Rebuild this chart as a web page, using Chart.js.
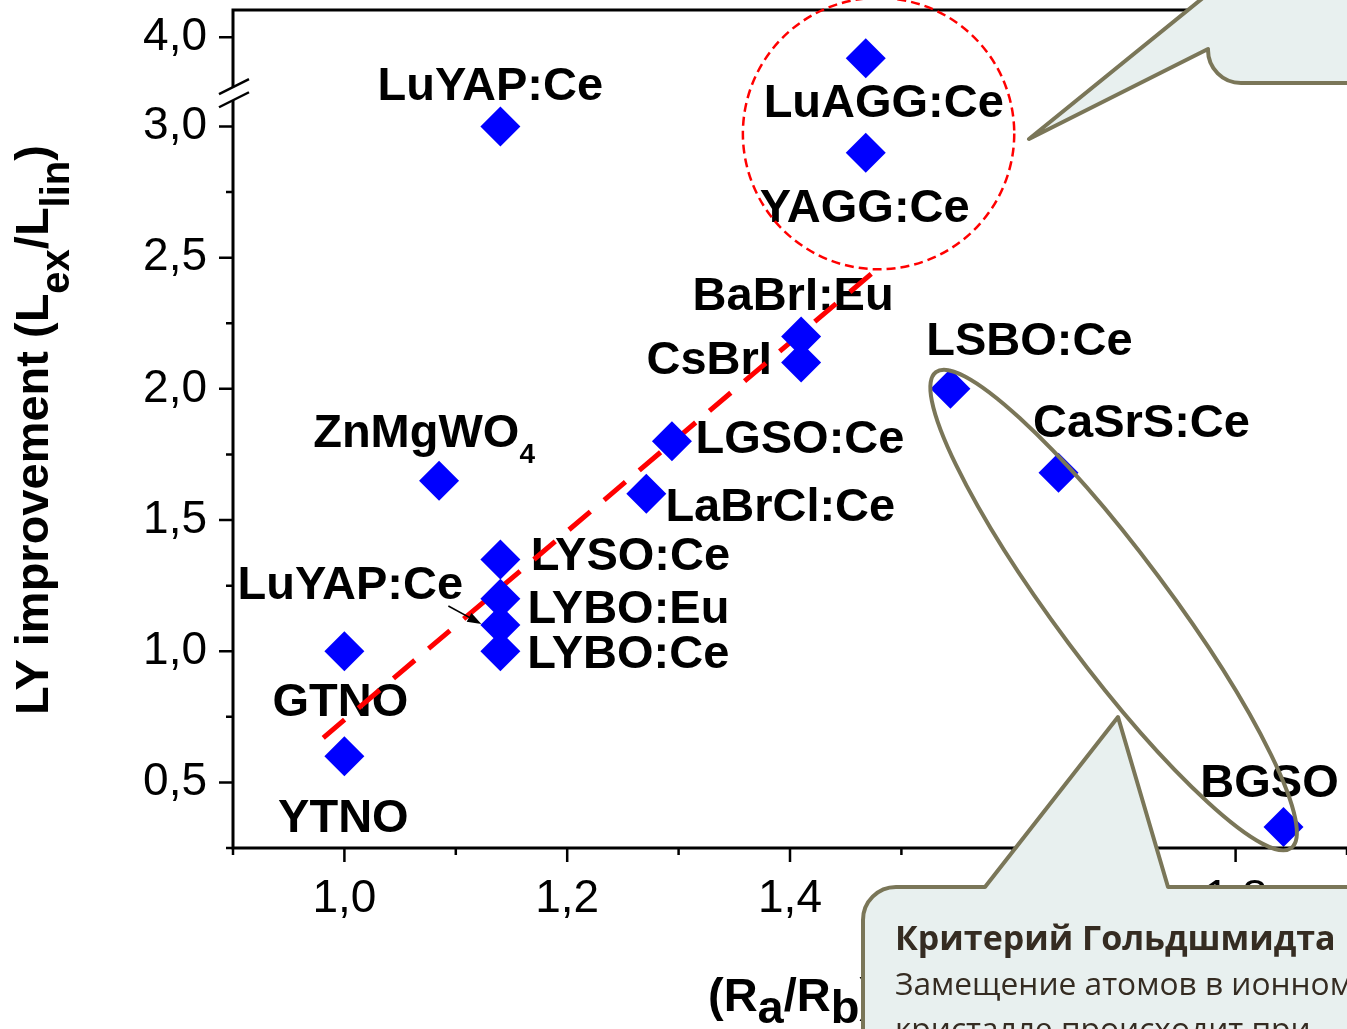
<!DOCTYPE html>
<html>
<head>
<meta charset="utf-8">
<script src="https://cdn.jsdelivr.net/npm/chart.js@4.4.1/dist/chart.umd.min.js"></script>
<style>
  html, body { margin: 0; padding: 0; background: #fff; overflow: hidden; }
  #wrap { width: 1347px; height: 1029px; }
</style>
</head>
<body>
<div id="wrap"><canvas id="chart" width="1347" height="1029"></canvas></div>
<script>
// scintillators: ion radii ratio vs light yield improvement
var names = ["LuYAP:Ce", "LuAGG:Ce", "YAGG:Ce", "BaBrI:Eu", "CsBrI", "LSBO:Ce", "CaSrS:Ce", "BGSO",
  "LGSO:Ce", "LaBrCl:Ce", "ZnMgWO4", "LYSO:Ce", "LYBO:Eu", "LuYAP:Ce", "LYBO:Ce", "GTNO", "YTNO"];
var ratio = [1.14, 1.468, 1.468, 1.41, 1.41, 1.544, 1.641, 1.843,
  1.294, 1.271, 1.085, 1.14, 1.14, 1.14, 1.14, 1.0, 1.0];
var improvement = [3.0, 3.92, 2.9, 2.2, 2.1, 2.0, 1.68, 0.33,
  1.8, 1.6, 1.65, 1.35, 1.2, 1.1, 1.0, 1.0, 0.6];
var trendX = [0.981, 1.479];
var trendY = [0.67, 2.46];
var xTicks = [1.0, 1.2, 1.4, 1.6, 1.8];
var xMinor = [0.9, 1.1, 1.3, 1.5, 1.7, 1.9];
var yTicks = [0.5, 1.0, 1.5, 2.0, 2.5, 3.0, 4.0];
var yMinor = [0.75, 1.25, 1.75, 2.25, 2.75];

// axis break on y: values above the break are shifted down
var BREAK = 3.12, SHIFT = 0.66;
function toDisplay(v) { return v > 3.5 ? v - SHIFT : v; }
function fromDisplay(v) { return v > BREAK ? v + SHIFT : v; }
function fmt(v) { return v.toFixed(1).replace(".", ","); }

// label placement (px from the marker: centre x, baseline y)
var labelShift = [[-10, -26], [18, 59], [-1, 69], [-8, -26], [-92, 11], [79, -34], [83, -36], [-14, -30],
  [128, 12], [134, 27], [-15, -34], [130, 11], [128, 24], [-150, -26], [128, 17], [-4, 65], [-1, 76]];

var FONT = '"Liberation Sans", Arial, sans-serif';
var OLIVE = "#7a7658";
var BUBBLE = "#e8f0ef";

function drawParts(ctx, parts, x, y, align) {
  var total = 0;
  parts.forEach(function (p) { ctx.font = p.f; p.w = ctx.measureText(p.t).width; total += p.w; });
  var cx = align === "center" ? x - total / 2 : x;
  parts.forEach(function (p) { ctx.font = p.f; ctx.fillText(p.t, cx, y + (p.dy || 0)); cx += p.w; });
}

function nameParts(name) {
  var bits = name.split(/(\d+)/).filter(function (s) { return s.length; });
  return bits.map(function (s) {
    return /^\d+$/.test(s) ? { t: s, f: "bold 28px " + FONT, dy: 16 } : { t: s, f: "bold 47px " + FONT };
  });
}

var decor = {
  id: "decor",
  beforeDatasetsDraw: function (chart) {
    var ctx = chart.ctx, xs = chart.scales.x, ys = chart.scales.y;
    ctx.save();
    ctx.fillStyle = "#000";
    ctx.textBaseline = "alphabetic";
    names.forEach(function (n, i) {
      var x = xs.getPixelForValue(ratio[i]) + labelShift[i][0];
      var y = ys.getPixelForValue(toDisplay(improvement[i])) + labelShift[i][1];
      drawParts(ctx, nameParts(n), x, y, "center");
    });
    ctx.restore();
  },
  afterDatasetsDraw: function (chart) {
    var ctx = chart.ctx, ca = chart.chartArea, xs = chart.scales.x, ys = chart.scales.y;
    var px = function (v) { return xs.getPixelForValue(v); };
    var py = function (v) { return ys.getPixelForValue(toDisplay(v)); };
    ctx.save();

    // frame
    ctx.strokeStyle = "#000";
    ctx.lineWidth = 3;
    ctx.beginPath();
    ctx.moveTo(ca.right + 5, ca.top); ctx.lineTo(ca.left, ca.top);
    ctx.lineTo(ca.left, ca.bottom); ctx.lineTo(ca.right + 5, ca.bottom);
    ctx.stroke();

    // ticks
    ctx.lineWidth = 2.5;
    ctx.beginPath();
    yTicks.forEach(function (v) { var y = py(v); ctx.moveTo(ca.left - 14, y); ctx.lineTo(ca.left, y); });
    yMinor.forEach(function (v) { var y = py(v); ctx.moveTo(ca.left - 7, y); ctx.lineTo(ca.left, y); });
    ctx.moveTo(ca.left - 7, ca.bottom); ctx.lineTo(ca.left, ca.bottom);
    xTicks.forEach(function (v) { var x = px(v); ctx.moveTo(x, ca.bottom); ctx.lineTo(x, ca.bottom + 14); });
    xMinor.forEach(function (v) { var x = px(v); ctx.moveTo(x, ca.bottom); ctx.lineTo(x, ca.bottom + 7); });
    ctx.stroke();

    // axis break marks
    var yb1 = ys.getPixelForValue(BREAK - 0.02), yb2 = ys.getPixelForValue(BREAK + 0.03);
    ctx.fillStyle = "#fff";
    ctx.fillRect(ca.left - 4, yb2, 8, yb1 - yb2);
    ctx.beginPath();
    ctx.moveTo(ca.left - 14, yb1 + 7); ctx.lineTo(ca.left + 16, yb1 - 8);
    ctx.moveTo(ca.left - 14, yb2 + 7); ctx.lineTo(ca.left + 16, yb2 - 8);
    ctx.stroke();

    // red dashed circle round the garnets
    var ccx = px(1.4795), ccy = py(2.973), cr = px(1.4795 + 0.1218) - ccx;
    ctx.strokeStyle = "#ff0000";
    ctx.lineWidth = 2.5;
    ctx.setLineDash([9, 5]);
    ctx.beginPath();
    ctx.arc(ccx, ccy, cr, 0, Math.PI * 2);
    ctx.stroke();
    ctx.setLineDash([]);

    // olive ellipse
    var ax = px(1.531), ay = py(2.064), bx = px(1.85), by = py(0.25);
    var ang = Math.atan2(by - ay, bx - ax), semi = Math.hypot(bx - ax, by - ay) / 2;
    ctx.strokeStyle = OLIVE;
    ctx.lineWidth = 4;
    ctx.beginPath();
    ctx.ellipse((ax + bx) / 2, (ay + by) / 2, semi, 56, ang, 0, Math.PI * 2);
    ctx.stroke();

    // arrow to the lower LuYAP:Ce point
    var lx = px(ratio[13]), ly = py(improvement[13]);
    var sx = lx - 52, sy = ly - 19, tx = lx - 19, ty = ly - 1;
    var a = Math.atan2(ty - sy, tx - sx);
    ctx.strokeStyle = "#000";
    ctx.fillStyle = "#000";
    ctx.lineWidth = 1.5;
    ctx.beginPath(); ctx.moveTo(sx, sy); ctx.lineTo(tx - 8 * Math.cos(a), ty - 8 * Math.sin(a)); ctx.stroke();
    ctx.beginPath();
    ctx.moveTo(tx, ty);
    ctx.lineTo(tx - 14 * Math.cos(a) + 5 * Math.sin(a), ty - 14 * Math.sin(a) - 5 * Math.cos(a));
    ctx.lineTo(tx - 14 * Math.cos(a) - 5 * Math.sin(a), ty - 14 * Math.sin(a) + 5 * Math.cos(a));
    ctx.closePath(); ctx.fill();

    // axis titles
    ctx.fillStyle = "#000";
    var bf = "bold 47px " + FONT;
    drawParts(ctx, [{ t: "(R", f: bf }, { t: "a", f: bf, dy: 12 }, { t: "/R", f: bf }, { t: "b", f: bf, dy: 12 }, { t: ")", f: bf }],
      708, 1011, "left");
    ctx.save();
    ctx.translate(48, 715);
    ctx.rotate(-Math.PI / 2);
    var sf = "bold 40px " + FONT;
    drawParts(ctx, [{ t: "LY improvement (L", f: bf }, { t: "ex", f: sf, dy: 21 }, { t: "/L", f: bf },
      { t: "lin", f: sf, dy: 21 }, { t: ")", f: bf }], 0, 0, "left");
    ctx.restore();

    // callout bubbles
    ctx.fillStyle = BUBBLE;
    ctx.strokeStyle = OLIVE;
    ctx.lineWidth = 4;
    ctx.lineJoin = "round";
    ctx.beginPath();
    ctx.moveTo(1029, 139);
    ctx.lineTo(1208, 49);
    ctx.arcTo(1208, 83, 1241, 83, 33);
    ctx.lineTo(1360, 83);
    ctx.lineTo(1360, -20);
    ctx.lineTo(1225, -20);
    ctx.closePath();
    ctx.fill(); ctx.stroke();

    ctx.beginPath();
    ctx.moveTo(863, 1050);
    ctx.lineTo(863, 920);
    ctx.arcTo(863, 887, 896, 887, 33);
    ctx.lineTo(985, 887);
    ctx.lineTo(1118, 717);
    ctx.lineTo(1168, 887);
    ctx.lineTo(1360, 887);
    ctx.lineTo(1360, 1050);
    ctx.closePath();
    ctx.fill(); ctx.stroke();

    // bubble text
    ctx.fillStyle = "#352c22";
    var head = "Критерий Гольдшмидта";
    ctx.font = 'bold 36px "Open Sans", "Noto Sans", sans-serif';
    var hs = 36 * 440 / ctx.measureText(head).width;
    ctx.font = 'bold ' + hs.toFixed(1) + 'px "Open Sans", "Noto Sans", sans-serif';
    ctx.fillText(head, 895, 950);
    ctx.font = '36px "Open Sans", "Noto Sans", sans-serif';
    var bs = 36 * 328 / ctx.measureText("Замещение атомов в").width;
    ctx.font = bs.toFixed(1) + 'px "Open Sans", "Noto Sans", sans-serif';
    ctx.fillText("Замещение атомов в ионном", 895, 995);
    ctx.fillText("кристалле происходит при", 895, 1040);

    ctx.restore();
  }
};

var ctx = document.getElementById("chart").getContext("2d");
var chart = new Chart(ctx, {
  type: "scatter",
  data: {
    datasets: [
      {
        type: "line",
        data: trendX.map(function (x, i) { return { x: x, y: trendY[i] }; }),
        borderColor: "#ff0000",
        borderWidth: 5,
        borderDash: [28, 18],
        pointRadius: 0,
        fill: false,
        order: 2
      },
      {
        data: ratio.map(function (x, i) { return { x: x, y: toDisplay(improvement[i]) }; }),
        pointStyle: "rectRot",
        pointRadius: 20,
        backgroundColor: "#0000ff",
        borderWidth: 0,
        order: 1
      }
    ]
  },
  options: {
    responsive: false,
    animation: false,
    events: [],
    layout: { autoPadding: false, padding: { top: 10, left: 0, right: 0, bottom: 0 } },
    plugins: { legend: { display: false }, tooltip: { enabled: false } },
    scales: {
      x: {
        type: "linear",
        min: 0.9,
        max: 1.9,
        grid: { display: false, drawTicks: false },
        border: { display: false },
        afterBuildTicks: function (s) { s.ticks = xTicks.map(function (v) { return { value: v }; }); },
        ticks: {
          font: { family: FONT, size: 46 },
          color: "#000",
          padding: 24,
          maxRotation: 0,
          autoSkip: false,
          callback: function (v) { return fmt(v); }
        },
        afterFit: function (s) {
          s.height = 181;
          s.paddingLeft = 0; s.paddingRight = 0;
        }
      },
      y: {
        type: "linear",
        min: 0.25,
        max: 3.444,
        grid: { display: false, drawTicks: false },
        border: { display: false },
        afterBuildTicks: function (s) { s.ticks = yTicks.map(function (v) { return { value: toDisplay(v) }; }); },
        ticks: {
          font: { family: FONT, size: 46 },
          color: "#000",
          padding: 26,
          autoSkip: false,
          callback: function (v) { return fmt(fromDisplay(v)); }
        },
        afterFit: function (s) {
          s.width = 233;
          s.paddingTop = 0; s.paddingBottom = 0;
        }
      }
    }
  },
  plugins: [decor]
});
</script>
</body>
</html>
